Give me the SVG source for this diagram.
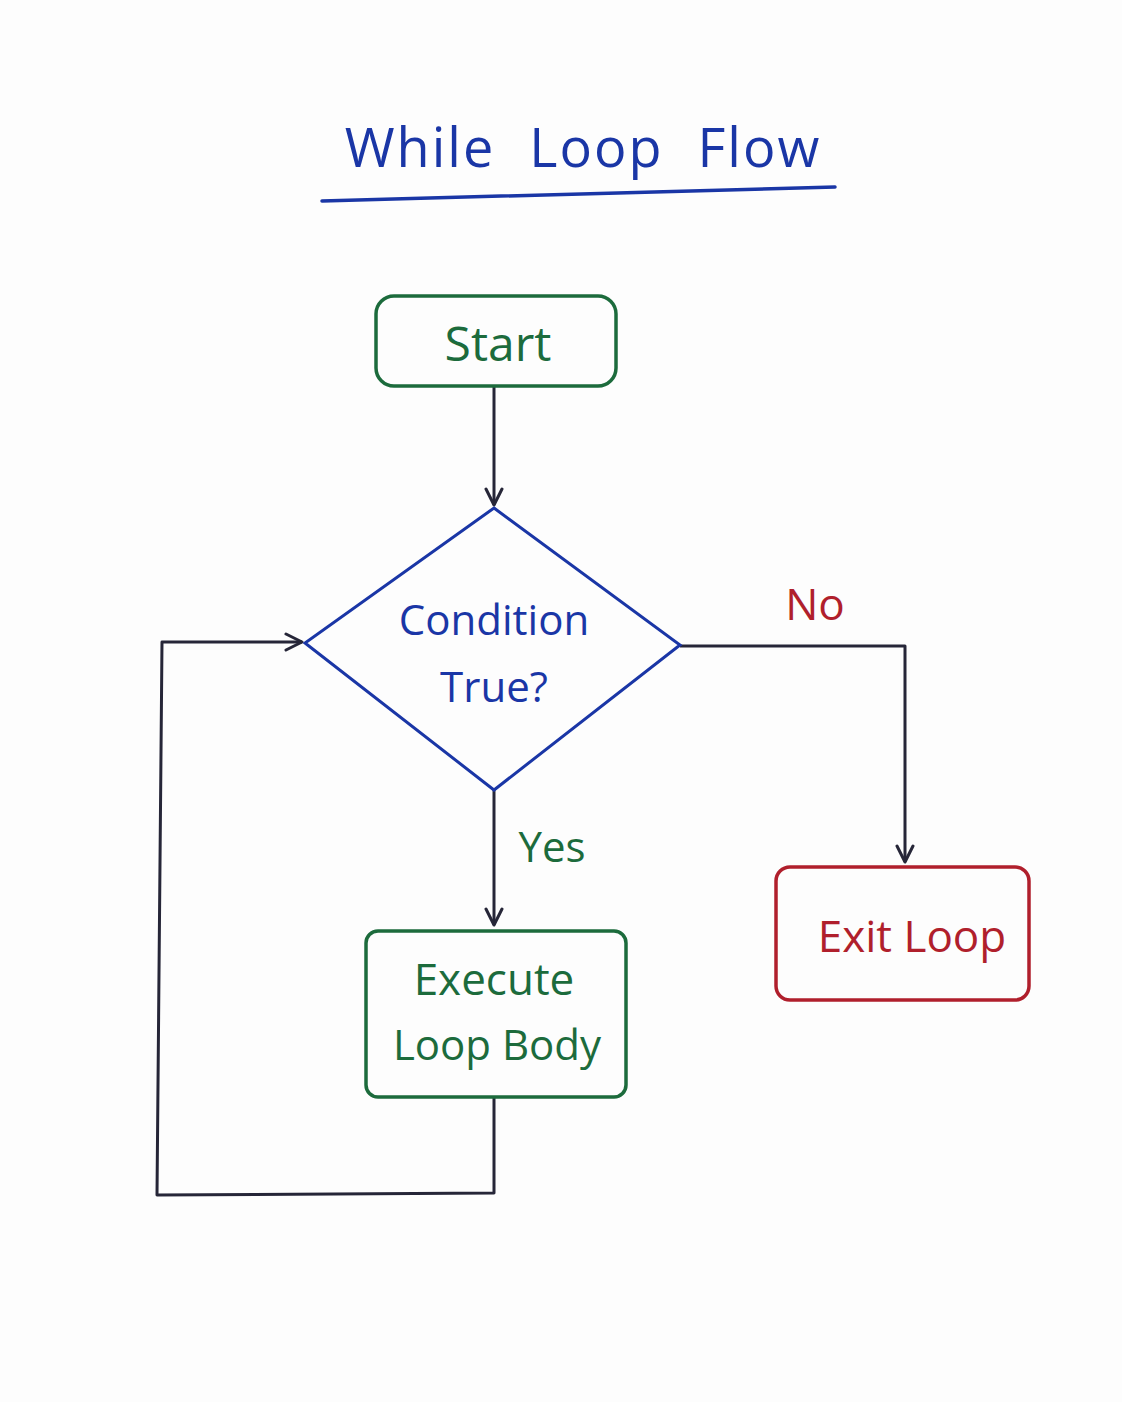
<svg xmlns="http://www.w3.org/2000/svg" width="1122" height="1402" viewBox="0 0 1122 1402">
<style>
text{font-family:"Open Sans","Liberation Sans",sans-serif;text-anchor:middle}
.blue{fill:#1a36a6}.green{fill:#1c6b3c}.red{fill:#b01f2c}
.line{fill:none;stroke:#262638;stroke-width:3;stroke-linejoin:round}
</style>
<defs>
<marker id="ah" viewBox="0 0 20 20" refX="18" refY="10" markerWidth="20" markerHeight="20" markerUnits="userSpaceOnUse" orient="auto">
<path d="M2,2 L18,10 L2,18" fill="none" stroke="#262638" stroke-width="3" stroke-linejoin="round" stroke-linecap="round"/>
</marker>
</defs>
<rect width="1122" height="1402" fill="#fdfdfd"/>
<g id="title">
<text x="583" y="167" font-size="54" word-spacing="18" letter-spacing="2" class="blue">While Loop Flow</text>
<path d="M322,201 L835,187" stroke="#1a36a6" stroke-width="3.5" fill="none" stroke-linecap="round"/>
</g>
<g id="connectors">
<path class="line" d="M494,387 L494,505" marker-end="url(#ah)"/>
<path class="line" d="M680,646 L905,646 L905,862" marker-end="url(#ah)"/>
<path class="line" d="M494,790 L494,925" marker-end="url(#ah)"/>
<path class="line" d="M494,1097 L494,1193 L157,1195 L162,642 L302,642" marker-end="url(#ah)"/>
<text x="815" y="620" font-size="44" class="red">No</text>
<text x="552" y="862" font-size="42" class="green">Yes</text>
</g>
<g id="start">
<rect x="376" y="296" width="240" height="90" rx="18" fill="none" stroke="#1c6b3c" stroke-width="3.5"/>
<text x="498" y="361" font-size="48" class="green">Start</text>
</g>
<g id="condition">
<path d="M494,508 L680,645 L494,790 L305,643 Z" fill="none" stroke="#1a36a6" stroke-width="3"/>
<text x="494" y="635" font-size="42" class="blue">Condition</text>
<text x="494" y="702" font-size="42" class="blue">True?</text>
</g>
<g id="execute">
<rect x="366" y="931" width="260" height="166" rx="12" fill="none" stroke="#1c6b3c" stroke-width="3.5"/>
<text x="494" y="995" font-size="44" class="green">Execute</text>
<text x="497" y="1060" font-size="42" class="green">Loop Body</text>
</g>
<g id="exit">
<rect x="776" y="867" width="253" height="133" rx="14" fill="none" stroke="#b01f2c" stroke-width="3.5"/>
<text x="912" y="952" font-size="44" class="red">Exit Loop</text>
</g>
</svg>
